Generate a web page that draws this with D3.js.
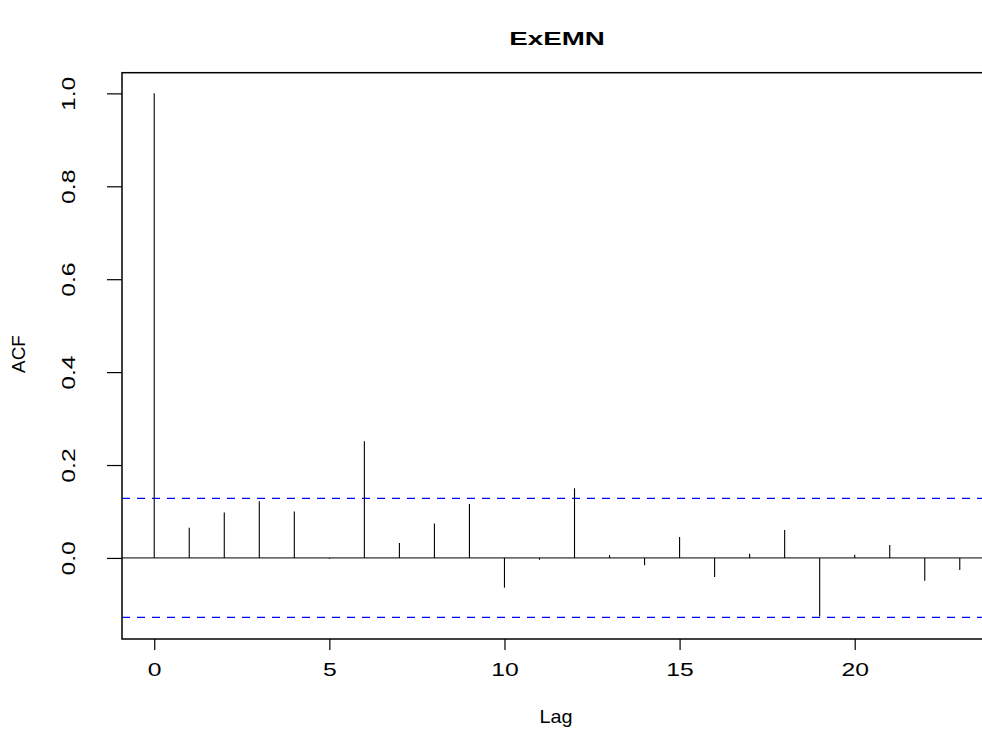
<!DOCTYPE html>
<html>
<head>
<meta charset="utf-8">
<script src="https://cdn.jsdelivr.net/npm/d3@7"></script>
<style>
  body { margin: 0; background: #fff; }
  svg { display: block; font-family: "Liberation Sans", Arial, sans-serif; }
</style>
</head>
<body>
<svg id="drawing_region"></svg>
<script>
// autocorrelations, lag 0..23
const lags = d3.range(0, 24);
const acfValues = [1.0, 0.065, 0.098, 0.122, 0.100, -0.002, 0.251, 0.032, 0.074, 0.116,
                   -0.064, -0.004, 0.150, 0.006, -0.016, 0.045, -0.041, 0.009, 0.060, -0.126,
                   0.007, 0.028, -0.049, -0.026];
const confLimit = 0.128;
const xTicks = [0, 5, 10, 15, 20];
const yTicks = [0.0, 0.2, 0.4, 0.6, 0.8, 1.0];

const data = lags.map((l, i) => ({lag: l, acf: acfValues[i]}));

const width = 982, height = 731;
const margin = {top: 72.7, left: 122, bottom: 92, right: -10};

const svg = d3.select('#drawing_region')
    .attr('width', width)
    .attr('height', height);

const inner_w = width - margin.left - margin.right;
const inner_h = height - margin.top - margin.bottom;

// R style 4% extension
const xscale = d3.scaleLinear().domain([-0.92, 23.92]).range([0, inner_w]);
const yscale = d3.scaleLinear().domain([-0.1745, 1.0445]).range([inner_h, 0]);

const chart = svg.append('g')
    .attr('transform', `translate(${margin.left}, ${margin.top})`);

// zero line
chart.append('line')
    .attr('x1', 0).attr('x2', inner_w)
    .attr('y1', yscale(0)).attr('y2', yscale(0))
    .attr('stroke', '#000').attr('stroke-width', 1);

// confidence bands
[confLimit, -confLimit].forEach(c => {
    chart.append('line')
        .attr('x1', 0).attr('x2', inner_w)
        .attr('y1', yscale(c)).attr('y2', yscale(c))
        .attr('stroke', '#0000ff').attr('stroke-width', 1.2)
        .attr('stroke-dasharray', '8,7');
});

// spikes
chart.selectAll('.spike')
    .data(data)
    .enter()
    .append('line')
    .attr('class', 'spike')
    .attr('x1', d => xscale(d.lag)).attr('x2', d => xscale(d.lag))
    .attr('y1', yscale(0)).attr('y2', d => yscale(d.acf))
    .attr('stroke', '#000').attr('stroke-width', 1.1);

// box
chart.append('rect')
    .attr('x', 0).attr('y', 0)
    .attr('width', inner_w).attr('height', inner_h)
    .attr('fill', 'none').attr('stroke', '#000').attr('stroke-width', 1.5);

// axes
const xaxis = d3.axisBottom(xscale).tickValues(xTicks).tickSize(11).tickSizeOuter(0);
const xg = chart.append('g')
    .attr('transform', `translate(0, ${inner_h})`)
    .call(xaxis);
xg.select('.domain').remove();
xg.selectAll('line').attr('stroke', '#000').attr('stroke-width', 1.2);
xg.selectAll('text')
    .attr('y', 37).attr('dy', 0)
    .attr('font-size', 19)
    .attr('font-family', '"Liberation Sans", Arial, sans-serif')
    .attr('fill', '#000')
    .attr('transform', 'scale(1.3,1)');

const yaxis = d3.axisLeft(yscale).tickValues(yTicks).tickSize(15).tickSizeOuter(0)
    .tickFormat(d3.format('.1f'));
const yg = chart.append('g').call(yaxis);
yg.select('.domain').remove();
yg.selectAll('line').attr('stroke', '#000').attr('stroke-width', 1.2);
yg.selectAll('text')
    .attr('x', 0).attr('y', -47).attr('dy', 0)
    .attr('text-anchor', 'middle')
    .attr('font-size', 19)
    .attr('font-family', '"Liberation Sans", Arial, sans-serif')
    .attr('fill', '#000')
    .attr('transform', 'rotate(-90) scale(1.3,1)');

// title and labels
svg.append('text')
    .attr('transform', `translate(557, 45) scale(1.5,1)`)
    .attr('text-anchor', 'middle')
    .attr('font-size', 18.5)
    .attr('font-weight', 'bold')
    .text('ExEMN');

svg.append('text')
    .attr('transform', `translate(556, 723) scale(1.1,1)`)
    .attr('text-anchor', 'middle')
    .attr('font-size', 18)
    .text('Lag');

svg.append('text')
    .attr('transform', `translate(25, 354) rotate(-90) scale(1.05,1)`)
    .attr('text-anchor', 'middle')
    .attr('font-size', 18)
    .text('ACF');
</script>
</body>
</html>
